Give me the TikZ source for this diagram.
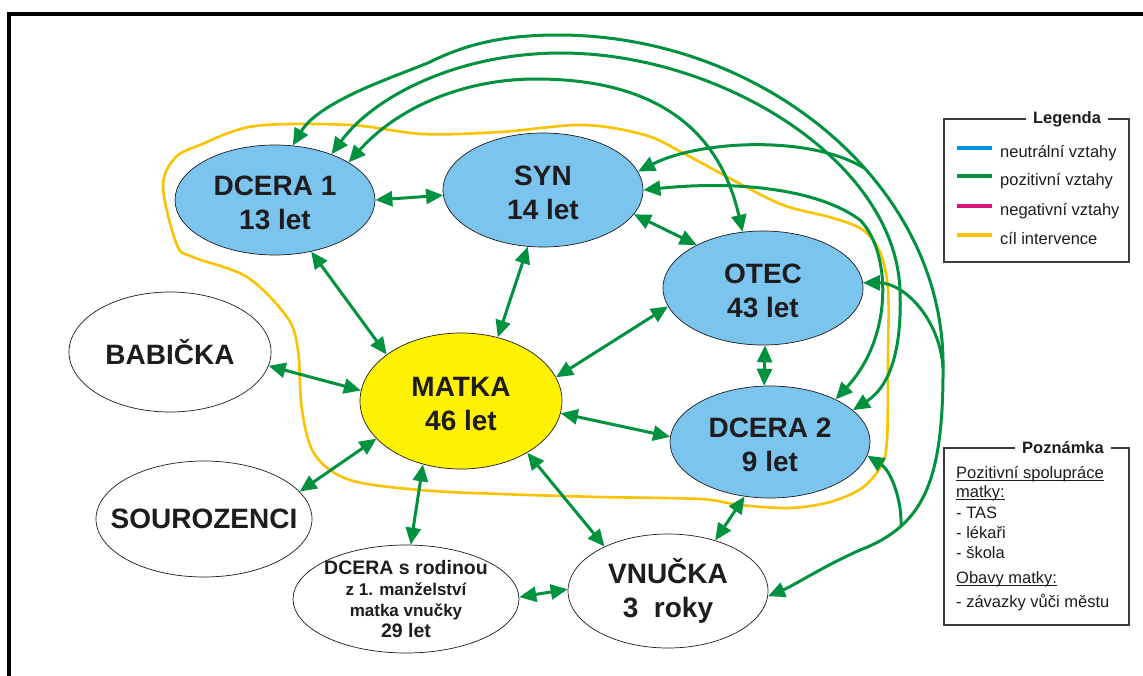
\documentclass[tikz,border=0pt]{standalone}
\usepackage{fontspec}
\setmainfont{Liberation Sans}
\usetikzlibrary{arrows.meta,shapes.geometric}
\definecolor{grn}{RGB}{0,146,63}
\definecolor{ylw}{RGB}{250,195,0}
\definecolor{sky}{RGB}{122,196,238}
\definecolor{mtk}{RGB}{255,242,0}
\definecolor{neu}{RGB}{0,150,219}
\definecolor{neg}{RGB}{212,20,125}
\definecolor{ink}{RGB}{30,28,30}
\definecolor{boxc}{RGB}{60,60,60}
\newcommand\myul[1]{\leavevmode\setbox0\hbox{#1}\rlap{\rule[-2.6pt]{\wd0}{0.9pt}}#1}
\newcommand\topstrut{\rule{0pt}{26pt}}
\begin{document}
\begin{tikzpicture}[x=1pt,y=-1pt,
  person/.style={ellipse, draw=ink, line width=0.7pt, inner sep=0pt, align=center, text=ink,
    font=\bfseries\fontsize{28}{34}\selectfont},
  kid/.style={person, fill=sky},
  rel/.style={draw=grn, line width=3pt, >={Triangle[length=17pt,width=15pt]}, <->},
  relin/.style={draw=grn, line width=3pt, >={Triangle[length=17pt,width=15pt]}, <-},
  boxline/.style={draw=boxc, line width=1.1pt},
  boxtitle/.style={fill=white, text=ink, inner xsep=7pt, inner ysep=2pt, font=\bfseries\fontsize{16.5}{20}\selectfont},
  boxtext/.style={anchor=base west, text=ink, inner sep=0pt, font=\fontsize{16.5}{20}\selectfont},
  sample/.style={line width=3.5pt}
]
\useasboundingbox (0,0) rectangle (1143,675);
\fill[white] (0,0) rectangle (1143,675);
% frame
\draw[line width=3.5pt, line join=miter] (9,690) -- (9,14) -- (1160,14);

% target of intervention
\draw[ylw, line width=2.6pt] plot[smooth cycle, tension=0.55] coordinates {
 (255,126) (350,125) (423,134) (500,132) (583,125) (645,135) (683,153) (733,180)
 (783,205) (833,218) (863,230) (880,252) (888,290) (888,360) (887,440) (881,466)
 (862,488) (830,502) (790,508) (740,505) (700,499) (600,497) (500,494) (420,490)
 (350,480) (315,455) (302,410) (298,350) (287,317) (247,277) (193,257) (177,245)
 (163,187) (175,158) (200,145)};

% persons
\node[kid, minimum width=200pt, minimum height=110pt] (d1) at (275,200) {\topstrut DCERA 1\\13 let};
\node[kid, minimum width=200pt, minimum height=114pt] (syn) at (543,190) {\topstrut SYN\\14 let};
\node[kid, minimum width=200pt, minimum height=114pt] (otec) at (763,288) {\topstrut OTEC\\43 let};
\node[kid, minimum width=200pt, minimum height=112pt] (d2) at (770,442) {\topstrut DCERA 2\\9 let};
\node[person, fill=mtk, minimum width=202pt, minimum height=136pt] (matka) at (461,401) {\topstrut MATKA\\46 let};
\node[person, fill=white, minimum width=202pt, minimum height=120pt] (bab) at (170,352) {BABIČKA};
\node[person, fill=white, minimum width=216pt, minimum height=116pt, inner xsep=-22pt] (sour) at (204,519) {SOUROZENCI};
\node[person, fill=white, minimum width=226pt, minimum height=108pt, inner sep=-4pt,
  font=\bfseries\fontsize{17}{21}\selectfont] (drod) at (406,599)
  {{\fontsize{19.5}{21}\selectfont DCERA s rodinou}\\z 1. manželství\\matka vnučky\\{\fontsize{19.5}{21}\selectfont 29 let}};
\node[person, fill=white, minimum width=200pt, minimum height=114pt] (vnu) at (668,591) {VNUČKA\\3\ \ roky};

% straight relations
\draw[rel] (d1.0) -- (syn.183);
\draw[rel] (d1.305) -- (matka.148);
\draw[rel] (syn.255) -- (matka.60);
\draw[rel] (syn.-15) -- (otec.147);
\draw[rel] (otec.191) -- (matka.14);
\draw[rel] (otec.-88) -- (d2.96);
\draw[rel] (matka.-7) -- (d2.177);
\draw[rel] (bab.-8) -- (matka.174);
\draw[rel] (sour.16) -- (matka.204);
\draw[rel] (matka.239) -- (drod.85);
\draw[rel] (matka.-38) -- (vnu.145);
\draw[rel] (drod.1) -- (vnu.179);
\draw[rel] (d2.245) -- (vnu.47);

% long arcs
\coordinate (j1) at (943,368);
\coordinate (j2) at (901,526);
\coordinate (j3) at (864,168);
\draw[rel] (d1.27) .. controls (395,110) and (460,79) .. (536,79)
  .. controls (630,79) and (715,110) .. (otec.110);
\draw[rel] (d1.39) .. controls (375,95) and (460,53) .. (561,53)
  .. controls (720,53) and (895,160) .. (900,290)
  .. controls (902,345) and (892,385) .. (d2.21);
\draw[rel] (d1.72) .. controls (320,100) and (400,75) .. (430,62)
  .. controls (470,42) and (510,35) .. (558,35)
  .. controls (760,35) and (940,180) .. (943,360)
  .. controls (944,480) and (925,525) .. (860,550)
  .. controls (820,568) and (795,585) .. (vnu.-3);
\draw[rel] (syn.0) .. controls (740,180) and (820,190) .. (860,220)
  .. controls (890,250) and (895,335) .. (d2.33);
\draw[relin] (syn.11) .. controls (700,140) and (810,135) .. (j3);
\draw[relin] (otec.3) .. controls (905,283) and (940,320) .. (j1);
\draw[relin] (d2.-8) .. controls (890,470) and (902,498) .. (j2);

% legend
\draw[boxline] (944,119) rectangle (1129,262);
\node[boxtitle] (legt) at (1067,119) {Legenda};
\draw[sample, neu] (957,148) -- (992,148);
\draw[sample, grn] (957,176) -- (992,176);
\draw[sample, neg] (957,206) -- (992,206);
\draw[sample, ylw] (957,235) -- (992,235);
\node[boxtext] (l1) at (1000,157) {neutrální vztahy};
\node[boxtext] (l2) at (1000,185) {pozitivní vztahy};
\node[boxtext] (l3) at (1000,215) {negativní vztahy};
\node[boxtext] (l4) at (1000,244) {cíl intervence};

% note
\draw[boxline] (944,448) rectangle (1129,625);
\node[boxtitle] (pozt) at (1063,448) {Poznámka};
\node[boxtext] (n1) at (956,478) {\myul{Pozitivní spolupráce}};
\node[boxtext] (n2) at (956,497) {\myul{matky:}};
\node[boxtext] (n3) at (956,518) {- TAS};
\node[boxtext] (n4) at (956,538) {- lékaři};
\node[boxtext] (n5) at (956,558) {- škola};
\node[boxtext] (n6) at (956,583) {\myul{Obavy matky:}};
\node[boxtext] (n7) at (956,607) {- závazky vůči městu};
\end{tikzpicture}
\end{document}
